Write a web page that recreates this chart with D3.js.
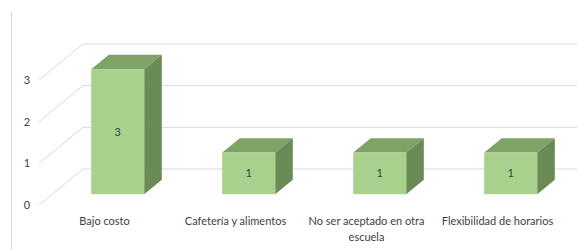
<!DOCTYPE html>
<html lang="es">
<head>
    <meta charset="UTF-8">
    <title>Chart</title>
    <style>
        body { margin: 0; background: #fff; }
        text { font-family: Lato, "Open Sans", sans-serif; fill: #404040; }
    </style>
</head>
<body>
    <svg id="chart" width="577" height="250"></svg>
    <script src="https://d3js.org/d3.v7.min.js"></script>
    <script>
        // data
        const categories = ["Bajo costo", "Cafetería y alimentos", "No ser aceptado en otra escuela", "Flexibilidad de horarios"];
        const labelLines = [["Bajo costo"], ["Cafetería y alimentos"], ["No ser aceptado en otra", "escuela"], ["Flexibilidad de horarios"]];
        const values = [3, 1, 1, 1];
        const yTicks = [0, 1, 2, 3];

        const svg = d3.select("#chart");

        // front floor edge, depth goes up-right
        const floorY = 205, depthX = 44, depthY = -36;
        const x = d3.scaleBand().domain(categories).range([39, 563]);
        const y = d3.scaleLinear().domain([0, 3]).range([floorY, 80]);
        const dx = d3.scaleLinear().domain([0, 1]).range([0, depthX]);
        const dy = d3.scaleLinear().domain([0, 1]).range([0, depthY]);

        // chart border line on left
        svg.append("line")
            .attr("x1", 11.5).attr("x2", 11.5)
            .attr("y1", 12).attr("y2", 250)
            .attr("stroke", "#d9d9d9");

        // gridlines: side wall diagonal + back wall line
        const grid = svg.append("g").attr("fill", "none").attr("stroke", "#d9d9d9");
        yTicks.forEach(t => {
            grid.append("path")
                .attr("d", `M${x.range()[0]},${y(t)}L${x.range()[0] + dx(1)},${y(t) + dy(1)}L577,${y(t) + dy(1)}`);
        });

        // y tick labels
        svg.append("g").selectAll("text")
            .data(yTicks)
            .join("text")
            .attr("x", 27)
            .attr("y", d => y(d) + 4)
            .attr("text-anchor", "middle")
            .attr("font-size", 11)
            .text(d => d);

        // 3D bars
        const barW = 53, z0 = 0.3, z1 = 0.7;
        const bars = svg.append("g").selectAll("g")
            .data(categories.map((c, i) => ({ c, v: values[i] })))
            .join("g");

        bars.each(function (d) {
            const g = d3.select(this);
            const cx = x(d.c) + x.bandwidth() / 2;
            const x0 = cx - barW / 2 + dx(z0), x1 = x0 + barW;
            const yb = y(0) + dy(z0), yt = y(d.v) + dy(z0);
            const ox = dx(z1 - z0), oy = dy(z1 - z0);
            // top
            g.append("path")
                .attr("d", `M${x0},${yt}L${x0 + ox},${yt + oy}L${x1 + ox},${yt + oy}L${x1},${yt}Z`)
                .attr("fill", "#7fa266");
            // side
            g.append("path")
                .attr("d", `M${x1},${yt}L${x1 + ox},${yt + oy}L${x1 + ox},${yb + oy}L${x1},${yb}Z`)
                .attr("fill", "#6a8a56");
            // front
            g.append("rect")
                .attr("x", x0).attr("y", yt)
                .attr("width", barW).attr("height", yb - yt)
                .attr("fill", "#a9d18e");
            g.append("text")
                .attr("x", x0 + barW / 2)
                .attr("y", (yt + yb) / 2 + 4)
                .attr("text-anchor", "middle")
                .attr("font-size", 11)
                .attr("fill", "#262626")
                .text(d.v);
        });

        // category labels
        svg.append("g").selectAll("text")
            .data(categories)
            .join("text")
            .attr("x", d => x(d) + x.bandwidth() / 2)
            .attr("y", 225)
            .attr("text-anchor", "middle")
            .attr("font-size", 11)
            .each(function (d, i) {
                d3.select(this).selectAll("tspan")
                    .data(labelLines[i])
                    .join("tspan")
                    .attr("x", x(d) + x.bandwidth() / 2)
                    .attr("dy", (l, j) => j === 0 ? 0 : 16)
                    .text(l => l);
            });
    </script>
</body>
</html>
